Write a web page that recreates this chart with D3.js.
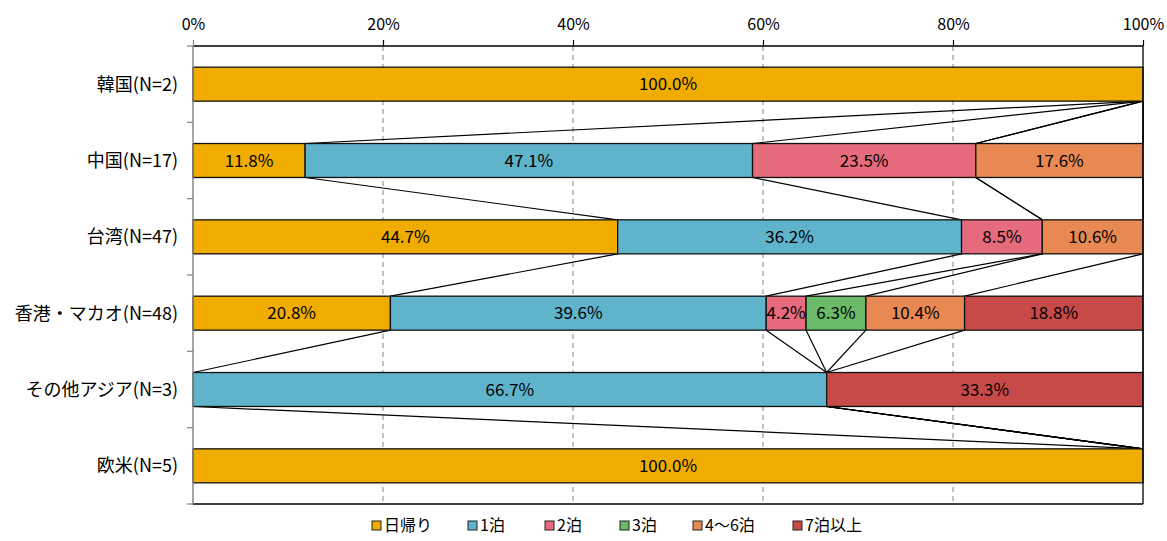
<!DOCTYPE html>
<html><head><meta charset="utf-8">
<script src="https://cdn.jsdelivr.net/npm/d3@7"></script>
<style>body{margin:0;background:#fff}svg{display:block;font-family:"Noto Sans CJK JP","Noto Sans",sans-serif}</style>
</head><body><svg id="c" width="1167" height="541"></svg>
<script>
const categories = ["韓国(N=2)","中国(N=17)","台湾(N=47)","香港・マカオ(N=48)","その他アジア(N=3)","欧米(N=5)"];
const seriesNames = ["日帰り","1泊","2泊","3泊","4～6泊","7泊以上"];
const dayTrip   = [100.0, 11.8, 44.7, 20.8, 0,    100.0];
const night1    = [0,     47.1, 36.2, 39.6, 66.7, 0];
const night2    = [0,     23.5, 8.5,  4.2,  0,    0];
const night3    = [0,     0,    0,    6.3,  0,    0];
const night4to6 = [0,     17.6, 10.6, 10.4, 0,    0];
const night7up  = [0,     0,    0,    18.8, 33.3, 0];
const tickValues = [0, 20, 40, 60, 80, 100];
const colors = ["#F0AD00","#5FB3CB","#E66B7C","#6ABA6A","#E88954","#C74A49"];

const seriesValues = [dayTrip, night1, night2, night3, night4to6, night7up];
const rows = categories.map((c,i)=>{const o={cat:c}; seriesNames.forEach((s,j)=>o[s]=seriesValues[j][i]); return o;});

const svg = d3.select("#c");
const L=193, R=1143, T=46, B=504;
const x = d3.scaleLinear().domain([0,1]).range([L,R]);
const y = d3.scaleBand().domain(categories).range([T,B]).paddingInner(0.555).paddingOuter(0.2775);
const color = d3.scaleOrdinal().domain(seriesNames).range(colors);
const stack = d3.stack().keys(seriesNames).offset(d3.stackOffsetExpand);
const layers = stack(rows);

// gridlines
svg.append("g").selectAll("line").data(tickValues.filter(v=>v>0&&v<100)).join("line")
  .attr("x1",d=>x(d/100)).attr("x2",d=>x(d/100)).attr("y1",T).attr("y2",B)
  .attr("stroke","#999").attr("stroke-width",1.2).attr("stroke-dasharray","5,4");

// series lines
const sl = svg.append("g");
layers.forEach(layer=>{
  for(let i=0;i<categories.length-1;i++){
    const a=layer[i], b=layer[i+1];
    sl.append("line")
      .attr("x1",x(a[1])).attr("y1",y(categories[i])+y.bandwidth())
      .attr("x2",x(b[1])).attr("y2",y(categories[i+1]))
      .attr("stroke","#000").attr("stroke-width",1.2);
  }
});

// bars
const gb = svg.append("g");
layers.forEach(layer=>{
  gb.append("g").selectAll("rect").data(layer.filter(d=>d[1]-d[0]>0)).join("rect")
    .attr("x",d=>x(d[0])).attr("width",d=>x(d[1])-x(d[0]))
    .attr("y",d=>y(d.data.cat)).attr("height",y.bandwidth())
    .attr("fill",color(layer.key)).attr("stroke","#111").attr("stroke-width",1.3);
});
// labels
layers.forEach(layer=>{
  gb.append("g").selectAll("text").data(layer.filter(d=>d.data[layer.key]>0)).join("text")
    .attr("x",d=>(x(d[0])+x(d[1]))/2).attr("y",d=>y(d.data.cat)+y.bandwidth()/2)
    .attr("dy","0.36em").attr("text-anchor","middle").attr("font-size",17).attr("fill","#000")
    .text(d=>d.data[layer.key].toFixed(1)+"%");
});

// frame
svg.append("line").attr("x1",L).attr("x2",R).attr("y1",T).attr("y2",T).attr("stroke","#000").attr("stroke-width",1.3);
svg.append("line").attr("x1",L).attr("x2",R).attr("y1",B).attr("y2",B).attr("stroke","#000").attr("stroke-width",1.3);
svg.append("line").attr("x1",R).attr("x2",R).attr("y1",T).attr("y2",B).attr("stroke","#000").attr("stroke-width",1.3);

// top axis
const xAxis = d3.axisTop(x).tickValues(tickValues.map(v=>v/100)).tickFormat((d,i)=>tickValues[i]+"%").tickSize(6).tickSizeOuter(0);
const ga = svg.append("g").attr("transform",`translate(0,${T})`).call(xAxis);
ga.select(".domain").remove();
ga.selectAll(".tick line").attr("stroke",(d,i)=>i===0?"#888":"#000").attr("stroke-width",1.2);
ga.selectAll(".tick text").attr("font-size",16).attr("fill","#000").attr("y",-16).attr("dy",0)
  .attr("font-family","'Noto Sans CJK JP',sans-serif");

// left axis
const gl = svg.append("g");
gl.append("line").attr("x1",L).attr("x2",L).attr("y1",T).attr("y2",B).attr("stroke","#888").attr("stroke-width",1.5);
const bounds = d3.range(categories.length+1).map(i=>T+i*y.step());
gl.selectAll("line.t").data(bounds).join("line").attr("class","t")
  .attr("x1",L-6).attr("x2",L).attr("y1",d=>d).attr("y2",d=>d).attr("stroke","#888").attr("stroke-width",1.3);
gl.selectAll("text").data(categories).join("text")
  .attr("x",178).attr("y",d=>y(d)+y.bandwidth()/2).attr("dy","0.36em")
  .attr("text-anchor","end").attr("font-size",18).attr("fill","#000").text(d=>d);

// legend
const legX = [372,468,545,620,693,793];
const lg = svg.append("g");
seriesNames.forEach((s,i)=>{
  lg.append("rect").attr("x",legX[i]).attr("y",521).attr("width",9).attr("height",9)
    .attr("fill",colors[i]).attr("stroke","#222").attr("stroke-width",1);
  lg.append("text").attr("x",legX[i]+12).attr("y",525.5).attr("dy","0.36em")
    .attr("font-size",16).attr("fill","#000").text(s);
});
</script></body></html>
